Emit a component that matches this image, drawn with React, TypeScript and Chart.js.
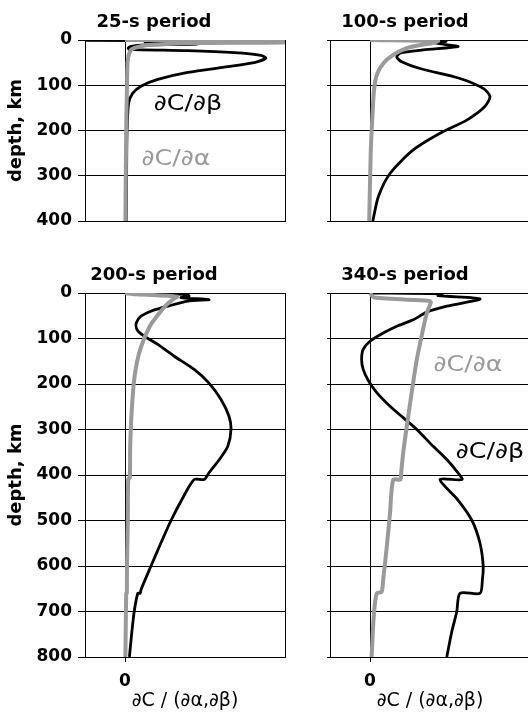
import { useEffect, useRef } from "react";
import { Chart, registerables } from "chart.js";

Chart.register(...registerables);

// ---------- text ----------
const PANEL_TITLES = ["25-s period", "100-s period", "200-s period", "340-s period"];
const Y_TITLE = "depth, km";
const X_TITLE = "∂C / (∂α,∂β)";
const BETA_LABEL = "∂C/∂β";
const ALPHA_LABEL = "∂C/∂α";

// ---------- tick values ----------
const DEPTH_TICKS_SHALLOW = [0, 100, 200, 300, 400];
const DEPTH_TICKS_DEEP = [0, 100, 200, 300, 400, 500, 600, 700, 800];
const X_GRID_VALUES = [-1, 0, 4];
const X_TICK_LABELS = ["0"];

// ---------- 25-s period ----------
const p25BetaDepth = [0, 1, 1.5, 3, 4, 6, 9, 11, 14, 18, 20.6, 23.6, 28, 34, 40.5, 50, 59, 71.5, 87, 102, 118, 140, 206, 300, 400];
const p25BetaValue = [-1.2, -1.2, 1.9, 1.9, 0.5, 1.8, 1.8, 0.5, 0.15, 0.08, 0.1, 1.57, 2.73, 3.4, 3.52, 3.23, 2.57, 1.57, 0.82, 0.4, 0.19, 0.09, 0.05, 0.04, 0.03];
const p25AlphaDepth = [0, 1, 5, 7, 11, 16, 22, 44, 100, 200, 400];
const p25AlphaValue = [0, 4.3, 4.3, 1.5, 0.57, 0.3, 0.15, 0.07, 0.05, 0.03, 0.01];

// ---------- 100-s period ----------
const p100BetaDepth = [0, 1, 3, 6, 10, 14.7, 22, 29, 38, 48, 63, 85, 107, 125, 147, 177, 206, 243, 295, 346, 400];
const p100BetaValue = [0, 1.9, 1.9, 1.6, 1.9, 2.2, 1.33, 0.75, 0.67, 0.79, 1.25, 2.25, 2.83, 3.0, 2.87, 2.42, 1.75, 1.08, 0.5, 0.21, 0.07];
const p100AlphaDepth = [0, 2, 6, 12, 18, 33, 52, 77, 111, 169, 243, 400];
const p100AlphaValue = [0, 1.7, 1.6, 1.2, 0.92, 0.58, 0.33, 0.17, 0.1, 0.06, 0.02, -0.02];

// ---------- 200-s period ----------
const p200BetaDepth = [0, 3, 7, 10, 14.6, 18, 29, 40, 51, 66, 80, 95, 113, 139, 168, 198, 234, 271, 300, 337, 366, 395, 410, 410, 451, 500, 549, 600, 652, 660, 660, 700, 746, 800];
const p200BetaValue = [0, 1.55, 1.6, 1.4, 2.1, 1.57, 1.07, 0.65, 0.4, 0.28, 0.3, 0.48, 0.82, 1.23, 1.73, 2.1, 2.4, 2.6, 2.65, 2.57, 2.36, 2.1, 1.98, 1.73, 1.44, 1.15, 0.9, 0.65, 0.4, 0.38, 0.32, 0.23, 0.17, 0.11];
const p200AlphaDepth = [0, 3, 8, 14, 25, 45, 73, 124, 183, 256, 337, 405, 410, 500, 600, 660, 660, 800];
const p200AlphaValue = [0, 0.3, 1.3, 1.2, 1.05, 0.85, 0.62, 0.38, 0.24, 0.17, 0.13, 0.12, 0.08, 0.07, 0.05, 0.045, 0.03, 0.01];

// ---------- 340-s period ----------
const p340BetaDepth = [0, 2, 6, 13, 29, 42, 59, 73, 88, 106, 124, 146, 168, 193, 219, 249, 274, 300, 337, 366, 392, 410, 410, 455, 500, 550, 600, 630, 660, 660, 700, 746, 800];
const p340BetaValue = [0, 1.8, 1.7, 2.75, 1.92, 1.42, 1.08, 0.67, 0.33, 0, -0.17, -0.21, -0.17, -0.04, 0.17, 0.5, 0.83, 1.17, 1.58, 1.92, 2.17, 2.3, 1.75, 2.2, 2.55, 2.75, 2.83, 2.81, 2.75, 2.25, 2.17, 2.04, 1.92];
const p340AlphaDepth = [0, 10, 17, 20, 44, 95, 146, 220, 293, 351, 395, 410, 410, 484, 557, 630, 657, 660, 703, 800];
const p340AlphaValue = [0, 0.1, 1.45, 1.52, 1.42, 1.29, 1.17, 1.04, 0.92, 0.83, 0.78, 0.76, 0.58, 0.5, 0.42, 0.33, 0.29, 0.17, 0.1, 0.04];

const BLACK = "#000000";
const GRAY = "#9a9a9a";
const FONT = "'DejaVu Sans', sans-serif";

type Label = { text: string; color: string; x: number; y: number };
type Spec = {
  left: number; top: number; width: number; height: number;
  padTop: number; padRight: number; padBottom: number;
  yAxisW: number; xAxisH: number; tickLen: number;
  maxDepth: number; depthTicks: number[];
  showY: boolean; showX: boolean;
  title: string; titleX: number; titleY: number;
  labels: Label[];
  beta: { d: number[]; v: number[] };
  alpha: { d: number[]; v: number[] };
};

const toPoints = (d: number[], v: number[]) => d.map((y, i) => ({ x: v[i], y }));

const textPlugin = {
  id: "panelText",
  afterDraw(chart: any, _args: any, opts: any) {
    const ctx = chart.ctx as CanvasRenderingContext2D;
    ctx.save();
    ctx.fillStyle = BLACK;
    ctx.font = `bold 18px ${FONT}`;
    ctx.textAlign = "center";
    ctx.textBaseline = "alphabetic";
    ctx.fillText(opts.title, opts.titleX, opts.titleY);
    ctx.font = `22px ${FONT}`;
    ctx.textBaseline = "middle";
    for (const l of opts.labels as Label[]) {
      ctx.save();
      ctx.translate(l.x, l.y);
      ctx.scale(1.15, 1);
      ctx.fillStyle = l.color;
      ctx.fillText(l.text, 0, 0);
      ctx.restore();
    }
    ctx.restore();
  },
};

function Panel({ spec }: { spec: Spec }) {
  const ref = useRef<HTMLCanvasElement>(null);
  useEffect(() => {
    if (!ref.current) return;
    const s = spec;
    const chart = new Chart(ref.current, {
      type: "scatter",
      data: {
        datasets: [
          {
            data: toPoints(s.alpha.d, s.alpha.v),
            showLine: true,
            borderColor: GRAY,
            borderWidth: 4,
            pointRadius: 0,
            tension: 0.25,
          },
          {
            data: toPoints(s.beta.d, s.beta.v),
            showLine: true,
            borderColor: BLACK,
            borderWidth: 2.8,
            pointRadius: 0,
            tension: 0.25,
          },
        ],
      },
      options: {
        animation: false,
        responsive: false,
        maintainAspectRatio: false,
        events: [],
        layout: { padding: { left: 0, right: s.padRight, top: s.padTop, bottom: s.padBottom } },
        plugins: {
          legend: { display: false },
          tooltip: { enabled: false },
          title: { display: false },
          panelText: { title: s.title, titleX: s.titleX, titleY: s.titleY, labels: s.labels },
        } as any,
        scales: {
          x: {
            type: "linear",
            position: "bottom",
            min: -1,
            max: 4,
            afterBuildTicks: (sc: any) => {
              sc.ticks = X_GRID_VALUES.map((v) => ({ value: v }));
            },
            afterFit: (sc: any) => {
              sc.height = s.xAxisH;
              sc.paddingLeft = 0;
              sc.paddingRight = 0;
            },
            ticks: {
              autoSkip: false,
              maxRotation: 0,
              padding: 9,
              color: BLACK,
              font: { family: FONT, size: 17, weight: "bold" },
              callback: (v: any) => (s.showX && v === 0 ? X_TICK_LABELS[0] : ""),
            },
            grid: {
              color: BLACK,
              lineWidth: 1,
              drawTicks: s.showX,
              tickLength: 5,
              tickColor: (c: any) => (c.tick && c.tick.value === 0 ? BLACK : "rgba(0,0,0,0)"),
            },
            border: { display: true, color: BLACK, width: 1 },
            title: {
              display: s.showX,
              text: X_TITLE,
              color: BLACK,
              font: { family: FONT, size: 19 },
              padding: { top: 0, bottom: 3 },
            },
          },
          y: {
            type: "linear",
            reverse: true,
            min: 0,
            max: s.maxDepth,
            afterBuildTicks: (sc: any) => {
              sc.ticks = s.depthTicks.map((v) => ({ value: v }));
            },
            afterFit: (sc: any) => {
              sc.width = s.yAxisW;
              sc.paddingTop = 0;
              sc.paddingBottom = 0;
            },
            ticks: {
              autoSkip: false,
              padding: 6,
              color: BLACK,
              font: { family: FONT, size: 17, weight: "bold" },
              callback: (v: any) => (s.showY ? String(v) : ""),
            },
            grid: { color: BLACK, lineWidth: 1, drawTicks: true, tickLength: s.tickLen },
            border: { display: true, color: BLACK, width: 1 },
            title: {
              display: s.showY,
              text: Y_TITLE,
              color: BLACK,
              font: { family: FONT, size: 18, weight: "bold" },
              padding: { top: 6, bottom: 0 },
            },
          },
        },
      },
      plugins: [textPlugin as any],
    });
    return () => chart.destroy();
  }, [spec]);
  return (
    <canvas
      ref={ref}
      width={spec.width}
      height={spec.height}
      style={{ position: "absolute", left: spec.left, top: spec.top, width: spec.width, height: spec.height }}
    />
  );
}

const SPECS: Spec[] = [
  {
    left: 0, top: 0, width: 290, height: 240,
    padTop: 40, padRight: 5, padBottom: 19, yAxisW: 85, xAxisH: 0, tickLen: 7,
    maxDepth: 400, depthTicks: DEPTH_TICKS_SHALLOW, showY: true, showX: false,
    title: PANEL_TITLES[0], titleX: 154, titleY: 27,
    labels: [
      { text: BETA_LABEL, color: BLACK, x: 188, y: 104 },
      { text: ALPHA_LABEL, color: GRAY, x: 176, y: 159 },
    ],
    beta: { d: p25BetaDepth, v: p25BetaValue },
    alpha: { d: p25AlphaDepth, v: p25AlphaValue },
  },
  {
    left: 290, top: 0, width: 240, height: 240,
    padTop: 40, padRight: 0, padBottom: 19, yAxisW: 40, xAxisH: 0, tickLen: 3,
    maxDepth: 400, depthTicks: DEPTH_TICKS_SHALLOW, showY: false, showX: false,
    title: PANEL_TITLES[1], titleX: 115, titleY: 27,
    labels: [],
    beta: { d: p100BetaDepth, v: p100BetaValue },
    alpha: { d: p100AlphaDepth, v: p100AlphaValue },
  },
  {
    left: 0, top: 245, width: 290, height: 470,
    padTop: 48, padRight: 5, padBottom: 0, yAxisW: 85, xAxisH: 58, tickLen: 7,
    maxDepth: 800, depthTicks: DEPTH_TICKS_DEEP, showY: true, showX: true,
    title: PANEL_TITLES[2], titleX: 154, titleY: 35,
    labels: [],
    beta: { d: p200BetaDepth, v: p200BetaValue },
    alpha: { d: p200AlphaDepth, v: p200AlphaValue },
  },
  {
    left: 290, top: 245, width: 240, height: 470,
    padTop: 48, padRight: 0, padBottom: 0, yAxisW: 40, xAxisH: 58, tickLen: 3,
    maxDepth: 800, depthTicks: DEPTH_TICKS_DEEP, showY: false, showX: true,
    title: PANEL_TITLES[3], titleX: 115, titleY: 35,
    labels: [
      { text: ALPHA_LABEL, color: GRAY, x: 178, y: 120 },
      { text: BETA_LABEL, color: BLACK, x: 200, y: 207 },
    ],
    beta: { d: p340BetaDepth, v: p340BetaValue },
    alpha: { d: p340AlphaDepth, v: p340AlphaValue },
  },
];

export default function App() {
  return (
    <div
      style={{
        position: "absolute",
        left: 0,
        top: 0,
        width: 528,
        height: 715,
        overflow: "hidden",
        background: "#ffffff",
      }}
    >
      {SPECS.map((s, i) => (
        <Panel key={i} spec={s} />
      ))}
    </div>
  );
}
